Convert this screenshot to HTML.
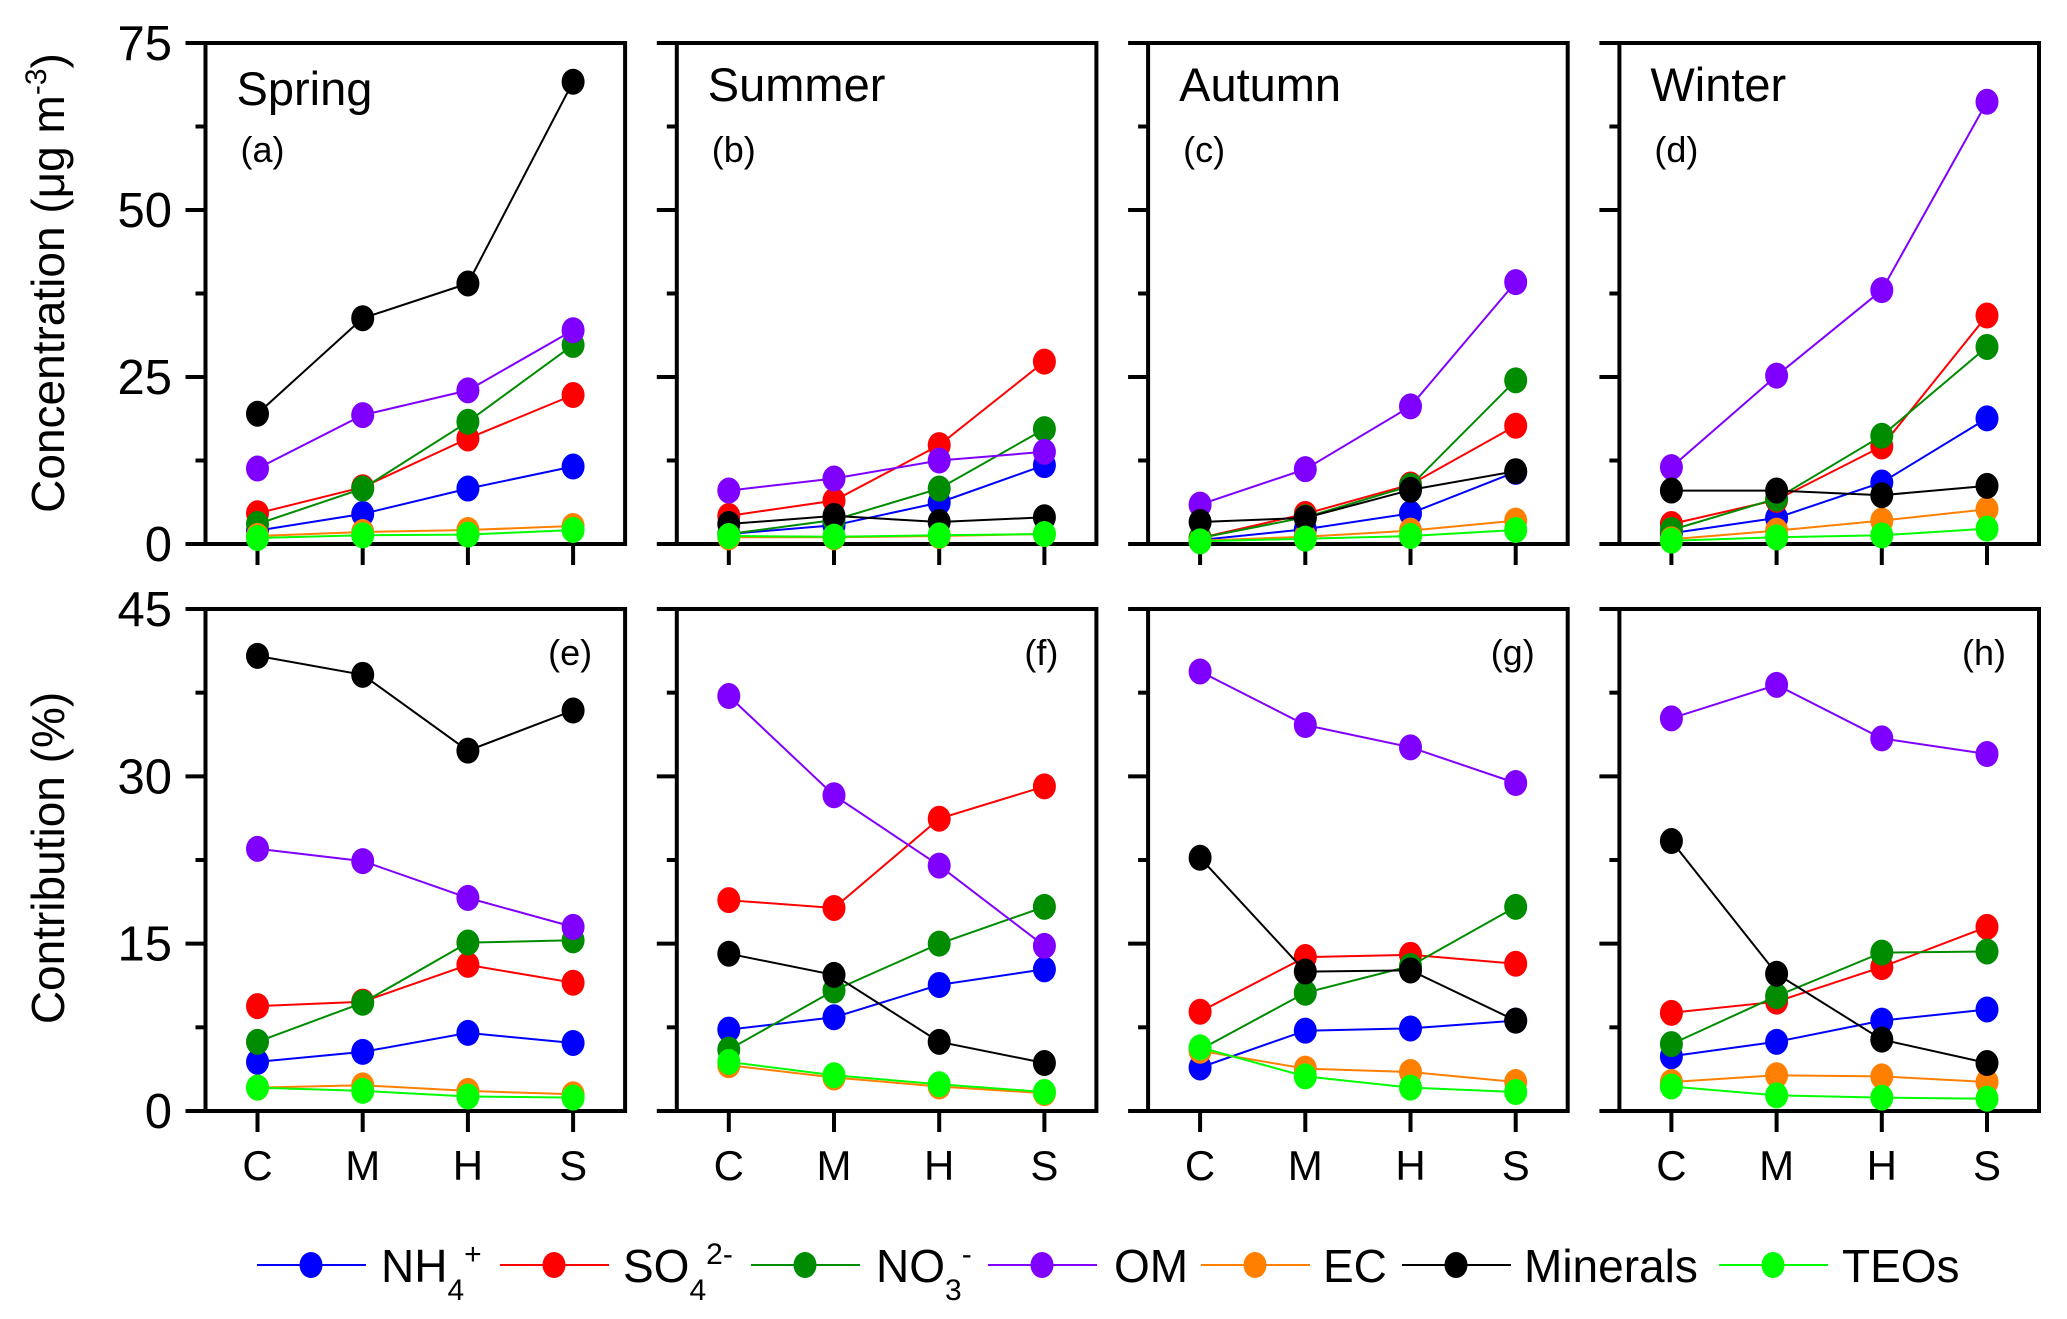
<!DOCTYPE html>
<html><head><meta charset="utf-8">
<style>
html,body{margin:0;padding:0;background:#fff;}
svg{display:block;font-family:"Liberation Sans",Arial,sans-serif;}
</style></head>
<body>
<svg id="chart" width="2067" height="1319" viewBox="0 0 2067 1319" xmlns="http://www.w3.org/2000/svg">
<text transform="translate(64,283) rotate(-90)" text-anchor="middle" font-size="46">Concentration (μg m<tspan dy="-18" font-size="30">-3</tspan><tspan dy="18">)</tspan></text>
<text transform="translate(64,858) rotate(-90)" text-anchor="middle" font-size="46">Contribution (%)</text>
</svg>
<script>
const categories = ["C","M","H","S"];
const seasons = ["Spring","Summer","Autumn","Winter"];
const topLetters = ["(a)","(b)","(c)","(d)"];
const bottomLetters = ["(e)","(f)","(g)","(h)"];
const seriesNames = ["NH4","SO4","NO3","OM","EC","Minerals","TEOs"];
const seriesColors = ["#0000ff","#ff0000","#008c00","#8000ff","#ff8000","#000000","#00ff00"];
const concTicks = [0,25,50,75];
const concMinor = [12.5,37.5,62.5];
const pctTicks = [0,15,30,45];
const pctMinor = [7.5,22.5,37.5];

const concSpring = [[2,4.5,8.3,11.6],[4.6,8.5,15.8,22.3],[3,8.3,18.3,29.8],[11.3,19.3,23,32],[1.2,1.8,2.1,2.7],[19.5,33.8,39,69.2],[0.9,1.3,1.4,2.1]];
const concSummer = [[1.5,2.8,6.2,11.8],[4.2,6.5,14.8,27.3],[1.5,3.6,8.3,17.2],[8,9.8,12.5,13.8],[1,1,1.2,1.5],[3,4.2,3.3,4],[1.2,1.1,1.3,1.5]];
const concAutumn = [[0.6,2.2,4.6,10.8],[0.9,4.5,8.9,17.7],[0.9,4,8.7,24.5],[5.9,11.2,20.6,39.2],[0.5,1.1,2,3.5],[3.3,3.9,8.1,10.9],[0.4,0.8,1.2,2.1]];
const concWinter = [[1.6,3.9,9.2,18.8],[3,6.6,14.6,34.2],[2.1,6.8,16.2,29.5],[11.5,25.2,38,66.2],[0.7,2,3.5,5.2],[8,8,7.3,8.7],[0.5,1,1.3,2.3]];
const pctSpring = [[4.4,5.3,7.0,6.1],[9.4,9.8,13.1,11.5],[6.2,9.7,15.1,15.3],[23.5,22.4,19.1,16.5],[2.1,2.3,1.8,1.5],[40.8,39.1,32.3,35.9],[2.1,1.8,1.3,1.2]];
const pctSummer = [[7.3,8.4,11.3,12.7],[18.9,18.2,26.2,29.1],[5.5,10.8,15,18.3],[37.2,28.3,22,14.8],[4.1,3.0,2.2,1.6],[14.1,12.2,6.2,4.3],[4.4,3.2,2.4,1.7]];
const pctAutumn = [[3.9,7.2,7.4,8.1],[8.9,13.8,14.0,13.2],[5.5,10.6,13,18.3],[39.4,34.6,32.6,29.4],[5.4,3.8,3.5,2.6],[22.7,12.5,12.6,8.1],[5.7,3.1,2.1,1.7]];
const pctWinter = [[4.9,6.2,8.1,9.1],[8.8,9.8,12.9,16.5],[6.0,10.3,14.2,14.3],[35.2,38.2,33.4,32.0],[2.6,3.2,3.1,2.6],[24.2,12.3,6.4,4.3],[2.2,1.4,1.2,1.1]];

const concData = [concSpring,concSummer,concAutumn,concWinter];
const pctData = [pctSpring,pctSummer,pctAutumn,pctWinter];

const NS = "http://www.w3.org/2000/svg";
const svg = document.getElementById("chart");
function mk(tag, attrs, parent){
  const e = document.createElementNS(NS, tag);
  for (const k in attrs) e.setAttribute(k, attrs[k]);
  (parent||svg).appendChild(e);
  return e;
}
const C0 = 257.5, STEP = 105.2, PITCH = 471.3;
function xScale(p, i){ return C0 + p*PITCH + i*STEP; }
function makeY(top, bottom, max){ return v => bottom - (v/max)*(bottom-top); }

const rows = [
  {top:43, bottom:544, max:75, ticks:concTicks, minor:concMinor, data:concData, name:"concentration"},
  {top:609, bottom:1111, max:45, ticks:pctTicks, minor:pctMinor, data:pctData, name:"contribution"}
];

rows.forEach((row, r) => {
  const y = makeY(row.top, row.bottom, row.max);
  for (let p=0; p<4; p++){
    const g = mk("g", {});
    
    
    const left = xScale(p,0) - 52, right = xScale(p,3) + 52;
    row.ticks.forEach(t => {
      const tk = mk("line", {x1:left-20, x2:left, y1:y(t), y2:y(t), stroke:"#000","stroke-width":4}, g);
      
      
      if (p===0){
        const lb = mk("text", {x:172, y:y(t)+17, "text-anchor":"end", "font-size":49}, g);
        
        
        lb.textContent = t;
      }
    });
    row.minor.forEach(t => {
      const tk = mk("line", {x1:left-10, x2:left, y1:y(t), y2:y(t), stroke:"#000","stroke-width":4}, g);
      
      
    });
    categories.forEach((c,i) => {
      const x = xScale(p,i);
      const tk = mk("line", {x1:x, x2:x, y1:row.bottom+2, y2:row.bottom+21, stroke:"#000","stroke-width":4}, g);
      
      
      if (r===1){
        const lb = mk("text", {x:x, y:1180, "text-anchor":"middle", "font-size":42}, g);
        
        
        lb.textContent = c;
      }
    });
    const fr = mk("rect", {x:left, y:row.top, width:right-left, height:row.bottom-row.top, fill:"none", stroke:"#000","stroke-width":4}, g);
    
    
    if (r===0){
      const st = mk("text", {x:left+31, y:p===0?105:101, "font-size":47}, g);
      
      
      st.textContent = seasons[p];
      const lt = mk("text", {x:left+35, y:162, "font-size":36}, g);
      
      
      lt.textContent = topLetters[p];
    } else {
      const lt = mk("text", {x:xScale(p,3)-3, y:665, "text-anchor":"middle", "font-size":36}, g);
      
      
      lt.textContent = bottomLetters[p];
    }
    row.data[p].forEach((vals, s) => {
      const sg = mk("g", {}, g);
      
      
      const pts = vals.map((v,i) => xScale(p,i).toFixed(1) + "," + y(v).toFixed(1)).join(" ");
      const pl = mk("polyline", {points:pts, fill:"none", stroke:seriesColors[s], "stroke-width":2}, sg);
      
      
      vals.forEach((v,i) => {
        const m = mk("ellipse", {cx:xScale(p,i), cy:y(v), rx:11.5, ry:13, fill:seriesColors[s]}, sg);
        
        
      });
    });
  }
});

const legendLineX = [257,500,751,988,1201,1402,1719];
const legendTextX = [381,623,876,1114,1323,1524,1842];
const legendLabels = [["NH",["4","+"]],["SO",["4","2-"]],["NO",["3","-"]],["OM",null],["EC",null],["Minerals",null],["TEOs",null]];
const LY = 1265;
const lg = mk("g", {});


legendLabels.forEach((lab, s) => {
  const eg = mk("g", {}, lg);
  
  
  const x1 = legendLineX[s];
  mk("line", {x1:x1, x2:x1+109, y1:LY, y2:LY, stroke:seriesColors[s], "stroke-width":2}, eg);
  mk("ellipse", {cx:x1+54, cy:LY, rx:11.5, ry:13, fill:seriesColors[s]}, eg);
  const t = mk("text", {x:legendTextX[s], y:LY+17, "font-size":46}, eg);
  if (lab[1]){
    t.appendChild(document.createTextNode(lab[0]));
    const sub = mk("tspan", {dy:18, "font-size":30}, t); sub.textContent = lab[1][0];
    const sup = mk("tspan", {dy:-36, "font-size":30}, t); sup.textContent = lab[1][1];
  } else {
    t.textContent = lab[0];
  }
});
</script>
</body></html>
